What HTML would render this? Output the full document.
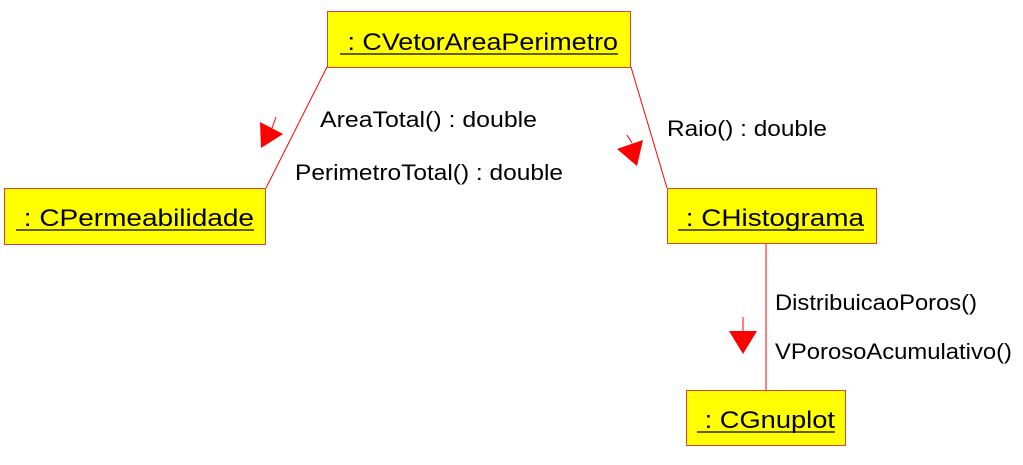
<!DOCTYPE html>
<html><head><meta charset="utf-8"><style>
html,body{margin:0;padding:0;background:#fff;}
svg{display:block;font-family:"Liberation Sans",sans-serif;}
</style></head><body>
<svg width="1023" height="465" viewBox="0 0 1023 465" xmlns="http://www.w3.org/2000/svg">
<g stroke="#ff0000" stroke-width="1" fill="none">
<line x1="327" y1="67" x2="266" y2="188"/>
<line x1="631" y1="67" x2="667" y2="188"/>
<line x1="766" y1="244" x2="766" y2="390"/>
<line x1="276" y1="117" x2="272" y2="128"/>
<line x1="627" y1="135" x2="632" y2="143"/>
<line x1="743" y1="317" x2="743" y2="331"/>
</g>
<g fill="#ff0000">
<polygon points="260,122 283,134 261,148"/>
<polygon points="617,149 643,140 637,166"/>
<polygon points="729,331 757,331 743,354"/>
</g>
<g fill="#ffff00" stroke="#e04040" stroke-width="1">
<rect x="327.5" y="11.5" width="303" height="56"/>
<rect x="4.5" y="188.5" width="261" height="56"/>
<rect x="667.5" y="188.5" width="209" height="55"/>
<rect x="686.5" y="390.5" width="159" height="55"/>
</g>
<g fill="#000" font-size="24">
<text x="340" y="50" textLength="278" lengthAdjust="spacingAndGlyphs">&#160;: CVetorAreaPerimetro</text>
<text x="16" y="226" textLength="238" lengthAdjust="spacingAndGlyphs">&#160;: CPermeabilidade</text>
<text x="678" y="226" textLength="186" lengthAdjust="spacingAndGlyphs">&#160;: CHistograma</text>
<text x="697" y="428" textLength="138" lengthAdjust="spacingAndGlyphs">&#160;: CGnuplot</text>
</g>
<g stroke="#000" stroke-width="1.2">
<line x1="340" y1="54" x2="618" y2="54"/>
<line x1="16" y1="230" x2="254" y2="230"/>
<line x1="678" y1="230" x2="864" y2="230"/>
<line x1="697" y1="432" x2="835" y2="432"/>
</g>
<g fill="#000" font-size="22">
<text x="320" y="127" textLength="217" lengthAdjust="spacingAndGlyphs">AreaTotal() : double</text>
<text x="295" y="180" textLength="268" lengthAdjust="spacingAndGlyphs">PerimetroTotal() : double</text>
<text x="667" y="136" textLength="160" lengthAdjust="spacingAndGlyphs">Raio() : double</text>
<text x="775" y="310" textLength="202" lengthAdjust="spacingAndGlyphs">DistribuicaoPoros()</text>
<text x="775" y="359" textLength="237" lengthAdjust="spacingAndGlyphs">VPorosoAcumulativo()</text>
</g>
</svg>
</body></html>
